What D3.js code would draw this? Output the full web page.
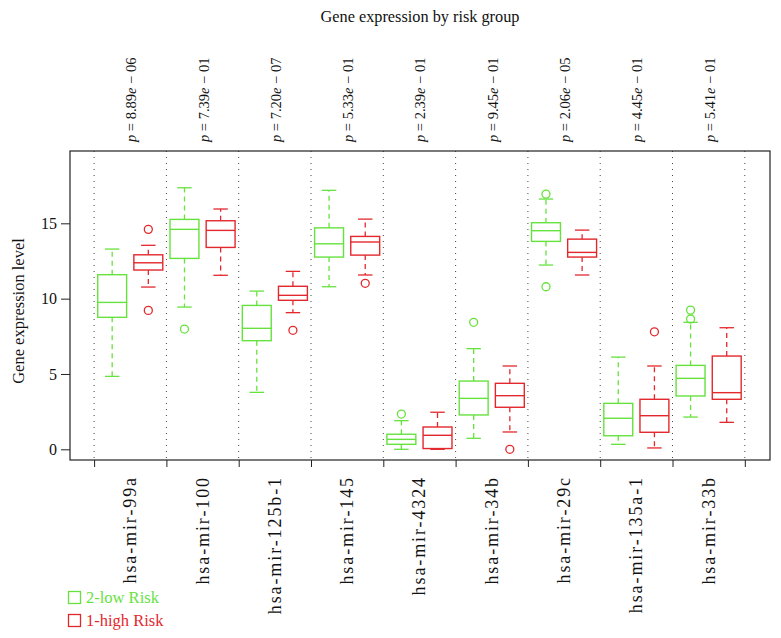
<!DOCTYPE html>
<html>
<head>
<meta charset="utf-8">
<script src="https://cdn.jsdelivr.net/npm/d3@7"></script>
<style>
  body { margin: 0; background: #fff; }
  text { font-family: "Liberation Serif", "DejaVu Serif", serif; }
</style>
</head>
<body>
<svg id="chart" width="781" height="638"></svg>
<script>
// ---- data ----
const categories = ["hsa-mir-99a", "hsa-mir-100", "hsa-mir-125b-1", "hsa-mir-145", "hsa-mir-4324",
                    "hsa-mir-34b", "hsa-mir-29c", "hsa-mir-135a-1", "hsa-mir-33b"];
const pMantissa = ["8.89", "7.39", "7.20", "5.33", "2.39", "9.45", "2.06", "4.45", "5.41"];
const pExponent = ["06", "01", "07", "01", "01", "01", "05", "01", "01"];
// [lower whisker, Q1, median, Q3, upper whisker]
const lowStats = [
  [4.84, 8.76, 9.75, 11.59, 13.29],
  [9.44, 12.67, 14.6, 15.26, 17.36],
  [3.78, 7.21, 8.03, 9.55, 10.5],
  [10.79, 12.76, 13.64, 14.7, 17.19],
  [0.0, 0.33, 0.66, 1.0, 1.9],
  [0.73, 2.28, 3.38, 4.53, 6.68],
  [12.23, 13.8, 14.51, 15.04, 16.61],
  [0.33, 0.9, 2.06, 3.05, 6.12],
  [2.14, 3.54, 4.71, 5.57, 8.43]
];
const lowOutliers = [[], [7.98], [], [], [2.34], [8.43], [16.94, 10.79], [], [8.65, 9.24]];
const highStats = [
  [10.77, 11.9, 12.38, 12.91, 13.54],
  [11.55, 13.4, 14.53, 15.17, 15.95],
  [9.07, 9.89, 10.22, 10.82, 11.81],
  [11.57, 12.89, 13.76, 14.13, 15.28],
  [0.0, 0.05, 0.93, 1.48, 2.46],
  [1.15, 2.79, 3.56, 4.38, 5.53],
  [11.57, 12.76, 13.07, 13.95, 14.55],
  [0.09, 1.13, 2.23, 3.32, 5.53],
  [1.79, 3.32, 3.76, 6.19, 8.07]
];
const highOutliers = [[14.6, 9.22], [], [7.9], [11.02], [], [0.0], [], [7.8], []];
const yTicks = [0, 5, 10, 15];
const groups = ["2-low Risk", "1-high Risk"];
const colors = ["#66e23e", "#e3282d"];

// ---- layout ----
const svg = d3.select("#chart");
const plot = { left: 70, right: 770, top: 151, bottom: 460 };
const x = d3.scaleLinear().domain([0.5, 18.5]).range([94.1, 744.8]);
const y = d3.scaleLinear().domain([-0.71, 19.8]).range([plot.bottom, plot.top]);
const slotW = x(1) - x(0);
const boxW = slotW * 0.8;

// title
svg.append("text").attr("x", 420).attr("y", 22).attr("text-anchor", "middle")
  .attr("font-size", 16.3).attr("fill", "#111").text("Gene expression by risk group");

// dotted separators
const seps = d3.range(10).map(k => 0.5 + 2 * k);
svg.append("g").selectAll("line").data(seps).join("line")
  .attr("x1", d => x(d)).attr("x2", d => x(d))
  .attr("y1", plot.top).attr("y2", plot.bottom)
  .attr("stroke", "#444").attr("stroke-width", 1).attr("stroke-dasharray", "1,5");

// boxes
const series = [
  { stats: lowStats, out: lowOutliers, color: colors[0], off: 1 },
  { stats: highStats, out: highOutliers, color: colors[1], off: 2 }
];
series.forEach(s => {
  const g = svg.append("g");
  s.stats.forEach((st, i) => {
    const cx = x(2 * i + s.off);
    const [lo, q1, med, q3, hi] = st;
    g.append("line").attr("x1", cx).attr("x2", cx).attr("y1", y(q3)).attr("y2", y(hi))
      .attr("stroke", s.color).attr("stroke-width", 1.3).attr("stroke-dasharray", "5,4");
    g.append("line").attr("x1", cx).attr("x2", cx).attr("y1", y(q1)).attr("y2", y(lo))
      .attr("stroke", s.color).attr("stroke-width", 1.3).attr("stroke-dasharray", "5,4");
    [lo, hi].forEach(v => g.append("line")
      .attr("x1", cx - boxW / 4).attr("x2", cx + boxW / 4).attr("y1", y(v)).attr("y2", y(v))
      .attr("stroke", s.color).attr("stroke-width", 1.3));
    g.append("rect").attr("x", cx - boxW / 2).attr("width", boxW)
      .attr("y", y(q3)).attr("height", Math.max(0.5, y(q1) - y(q3)))
      .attr("fill", "#fff").attr("stroke", s.color).attr("stroke-width", 1.4);
    g.append("line").attr("x1", cx - boxW / 2).attr("x2", cx + boxW / 2)
      .attr("y1", y(med)).attr("y2", y(med)).attr("stroke", s.color).attr("stroke-width", 1.4);
    s.out[i].forEach(v => g.append("circle").attr("cx", cx).attr("cy", y(v)).attr("r", 4)
      .attr("fill", "none").attr("stroke", s.color).attr("stroke-width", 1.3));
  });
});

// frame
svg.append("rect").attr("x", plot.left).attr("y", plot.top)
  .attr("width", plot.right - plot.left).attr("height", plot.bottom - plot.top)
  .attr("fill", "none").attr("stroke", "#222").attr("stroke-width", 1.2);

// y axis
const yAxis = d3.axisLeft(y).tickValues(yTicks).tickSize(9).tickPadding(4);
const ya = svg.append("g").attr("transform", `translate(${plot.left},0)`).call(yAxis);
ya.select(".domain").remove();
ya.selectAll("text").attr("font-size", 16).attr("font-family", "Liberation Serif").attr("fill", "#111");
ya.selectAll("line").attr("stroke", "#222");

svg.append("text").attr("transform", "translate(24,311) rotate(-90)")
  .attr("text-anchor", "middle").attr("font-size", 16.5).attr("fill", "#111").text("Gene expression level");

// bottom ticks at separators
const xAxis = d3.axisBottom(x).tickValues(seps).tickSize(7).tickFormat("");
const xa = svg.append("g").attr("transform", `translate(0,${plot.bottom})`).call(xAxis);
xa.select(".domain").remove();
xa.selectAll("line").attr("stroke", "#222");

// category labels
svg.append("g").selectAll("text").data(categories).join("text")
  .attr("transform", (d, i) => `translate(${x(2 * i + 1.5) + 6},476) rotate(-90)`)
  .attr("text-anchor", "end").attr("font-size", 18).attr("letter-spacing", 1.9)
  .attr("fill", "#111").text(d => d);

// p-values on top
const pg = svg.append("g");
categories.forEach((c, i) => {
  const t = pg.append("text")
    .attr("transform", `translate(${x(2 * i + 1.5) + 6},142) rotate(-90)`)
    .attr("text-anchor", "start").attr("font-size", 14.5).attr("fill", "#111");
  t.append("tspan").attr("font-style", "italic").text("p");
  t.append("tspan").text(" = " + pMantissa[i]);
  t.append("tspan").attr("font-style", "italic").text("e");
  t.append("tspan").text(" \u2212 " + pExponent[i]);
});

// legend
const lg = svg.append("g");
groups.forEach((gname, i) => {
  lg.append("rect").attr("x", 68.5).attr("y", 591.5 + i * 23).attr("width", 12).attr("height", 12)
    .attr("fill", "none").attr("stroke", colors[i]).attr("stroke-width", 1.3);
  lg.append("text").attr("x", 86).attr("y", 603 + i * 23).attr("font-size", 16.5)
    .attr("fill", colors[i]).text(gname);
});
</script>
</body>
</html>
